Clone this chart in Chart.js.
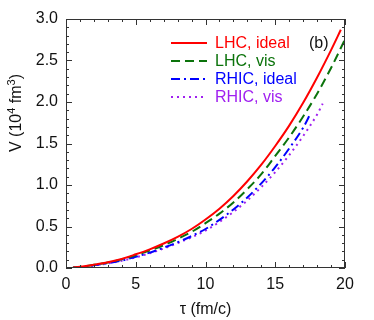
<!DOCTYPE html>
<html>
<head>
<meta charset="utf-8">
<script src="https://cdn.jsdelivr.net/npm/chart.js@4.4.0/dist/chart.umd.min.js"></script>
<style>
  html, body { margin: 0; padding: 0; background: #fff; }
  #wrap { width: 374px; height: 320px; }
</style>
</head>
<body>
<div id="wrap"><canvas id="volChart" width="374" height="320"></canvas></div>
<script>
// tau (fm/c) and V (10^4 fm^3)
const tauLhcIdeal = [0.5, 1, 2, 3, 4, 5, 6, 7, 8, 9, 10, 11, 12, 13, 14, 15, 16, 17, 18, 19, 19.7];
const vLhcIdeal = [0.005, 0.014, 0.04, 0.07, 0.11, 0.165, 0.225, 0.295, 0.375, 0.47, 0.585, 0.715, 0.868, 1.045, 1.245, 1.47, 1.715, 1.99, 2.295, 2.625, 2.87];

const tauLhcVis = [0.5, 1, 2, 3, 4, 5, 6, 7, 8, 9, 10, 11, 12, 13, 14, 15, 16, 17, 18, 19, 20];
const vLhcVis = [0.005, 0.013, 0.038, 0.067, 0.104, 0.155, 0.21, 0.275, 0.35, 0.435, 0.54, 0.655, 0.79, 0.95, 1.13, 1.35, 1.575, 1.825, 2.10, 2.41, 2.755];

const tauRhicIdeal = [0.5, 1, 2, 3, 4, 5, 6, 7, 8, 9, 10, 11, 12, 13, 14, 15, 16, 17, 17.5];
const vRhicIdeal = [0.004, 0.011, 0.032, 0.058, 0.09, 0.135, 0.185, 0.245, 0.31, 0.385, 0.47, 0.58, 0.705, 0.85, 1.02, 1.215, 1.44, 1.69, 1.85];

const tauRhicVis = [0.5, 1, 2, 3, 4, 5, 6, 7, 8, 9, 10, 11, 12, 13, 14, 15, 16, 17, 18, 18.4];
const vRhicVis = [0.004, 0.01, 0.03, 0.055, 0.087, 0.128, 0.177, 0.235, 0.3, 0.37, 0.45, 0.555, 0.675, 0.815, 0.975, 1.155, 1.36, 1.59, 1.85, 1.98];

const seriesLabels = ["LHC, ideal", "LHC, vis", "RHIC, ideal", "RHIC, vis"];
const seriesColors = ["#ff0000", "#0b730b", "#0000ff", "#a020f0"];
const seriesDash = [[], [9, 5], [9, 4, 2, 4], [2, 4]];

const FONT = "'Liberation Sans', Arial, Helvetica, sans-serif";

function pts(xs, ys) {
  return xs.map((x, i) => ({ x: x, y: ys[i] }));
}

const curves = [
  pts(tauLhcIdeal, vLhcIdeal),
  pts(tauLhcVis, vLhcVis),
  pts(tauRhicIdeal, vRhicIdeal),
  pts(tauRhicVis, vRhicVis)
];

// frame, inward ticks on all sides, axis titles, legend and panel tag
const decorPlugin = {
  id: "decor",
  afterDraw(chart) {
    const ctx = chart.ctx;
    const a = chart.chartArea;
    const xs = chart.scales.x;
    const ys = chart.scales.y;
    ctx.save();
    ctx.strokeStyle = "#333";
    ctx.lineWidth = 1;
    ctx.strokeRect(a.left + 0.5, a.top + 0.5, a.right - a.left - 1, a.bottom - a.top - 1);

    ctx.beginPath();
    for (let v = 0; v <= 20; v++) {
      const px = Math.round(xs.getPixelForValue(v)) + 0.5;
      const len = v % 5 === 0 ? 6 : 3;
      ctx.moveTo(px, a.bottom); ctx.lineTo(px, a.bottom - len);
      ctx.moveTo(px, a.top); ctx.lineTo(px, a.top + len);
    }
    for (let k = 0; k <= 30; k++) {
      const py = Math.round(ys.getPixelForValue(k / 10)) + 0.5;
      const len = k % 5 === 0 ? 6 : 3;
      ctx.moveTo(a.left, py); ctx.lineTo(a.left + len, py);
      ctx.moveTo(a.right, py); ctx.lineTo(a.right - len, py);
    }
    ctx.stroke();

    // x title
    ctx.fillStyle = "#111";
    ctx.font = "16px " + FONT;
    ctx.textAlign = "center";
    ctx.textBaseline = "middle";
    ctx.fillText("\u03c4 (fm/c)", (a.left + a.right) / 2, 310);

    // y title with superscripts, rotated
    const parts = [["V (10", false], ["4", true], [" fm", false], ["3", true], [")", false]];
    const big = "16px " + FONT, small = "11px " + FONT;
    let total = 0;
    parts.forEach(p => { ctx.font = p[1] ? small : big; total += ctx.measureText(p[0]).width; });
    ctx.translate(15, 113);
    ctx.rotate(-Math.PI / 2);
    ctx.textAlign = "left";
    ctx.textBaseline = "alphabetic";
    let cx = -total / 2;
    parts.forEach(p => {
      ctx.font = p[1] ? small : big;
      ctx.fillText(p[0], cx, p[1] ? 0 : 6);
      cx += ctx.measureText(p[0]).width;
    });
    ctx.setTransform(1, 0, 0, 1, 0, 0);

    // legend
    ctx.font = "16px " + FONT;
    ctx.textBaseline = "middle";
    chart.data.datasets.forEach((ds, i) => {
      const y = 43 + i * 18;
      ctx.strokeStyle = ds.borderColor;
      ctx.lineWidth = 2;
      ctx.setLineDash(ds.borderDash);
      ctx.beginPath();
      ctx.moveTo(171, y); ctx.lineTo(207, y);
      ctx.stroke();
      ctx.setLineDash([]);
      ctx.fillStyle = ds.borderColor;
      ctx.fillText(ds.label, 215, y + 1);
    });

    ctx.fillStyle = "#111";
    ctx.fillText("(b)", 309, 44);
    ctx.restore();
  }
};

const ctx = document.getElementById("volChart").getContext("2d");
new Chart(ctx, {
  type: "line",
  data: {
    datasets: curves.map((d, i) => ({
      label: seriesLabels[i],
      data: d,
      borderColor: seriesColors[i],
      borderWidth: 2,
      borderDash: seriesDash[i],
      pointRadius: 0,
      fill: false,
      cubicInterpolationMode: "monotone"
    }))
  },
  options: {
    responsive: false,
    animation: false,
    events: [],
    layout: { padding: { top: 19, right: 29, left: 0, bottom: 0 } },
    plugins: { legend: { display: false }, tooltip: { enabled: false } },
    scales: {
      x: {
        type: "linear",
        min: 0,
        max: 20,
        grid: { display: false, drawTicks: false },
        border: { display: false },
        ticks: { stepSize: 5, padding: 7, color: "#111", font: { family: FONT, size: 16 } },
        afterFit: s => { s.height = 52; }
      },
      y: {
        min: 0,
        max: 3,
        grid: { display: false, drawTicks: false },
        border: { display: false },
        ticks: {
          stepSize: 0.5, padding: 8, color: "#111",
          font: { family: FONT, size: 16 },
          callback: v => v.toFixed(1)
        },
        afterFit: s => { s.width = 66; }
      }
    }
  },
  plugins: [decorPlugin]
});
</script>
</body>
</html>
